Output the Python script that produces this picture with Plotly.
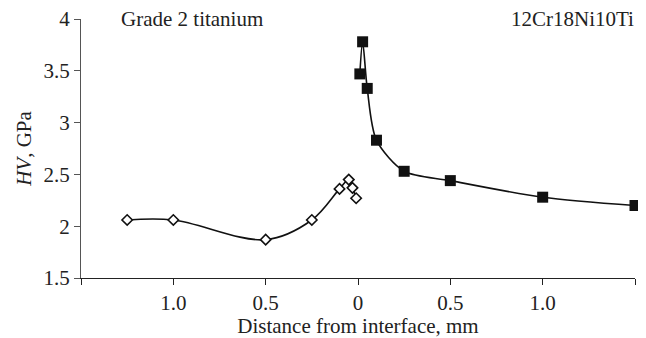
import plotly.graph_objects as go

# Data
ti_x = [-1.25, -1.0, -0.5, -0.25, -0.1, -0.05, -0.03, -0.01]
ti_hv = [2.06, 2.06, 1.87, 2.06, 2.36, 2.45, 2.37, 2.27]

st_x = [0.01, 0.025, 0.05, 0.1, 0.25, 0.5, 1.0, 1.5]
st_hv = [3.47, 3.78, 3.33, 2.83, 2.53, 2.44, 2.28, 2.20]

x_tickvals = [-1.5, -1.0, -0.5, 0, 0.5, 1.0, 1.5]
x_ticktext = ["", "1.0", "0.5", "0", "0.5", "1.0", "1.5"]
y_tickvals = [1.5, 2, 2.5, 3, 3.5, 4]
y_ticktext = ["1.5", "2", "2.5", "3", "3.5", "4"]

FONT = "Liberation Serif, Times New Roman, serif"

fig = go.Figure()
fig.add_trace(go.Scatter(
    x=ti_x, y=ti_hv, mode="lines+markers",
    line=dict(color="#111111", width=1.6, shape="spline", smoothing=1.0),
    marker=dict(symbol="diamond", size=8, color="white",
                line=dict(color="#111111", width=1.6)),
    showlegend=False, cliponaxis=False,
))
fig.add_trace(go.Scatter(
    x=st_x, y=st_hv, mode="lines+markers",
    line=dict(color="#111111", width=1.6, shape="spline", smoothing=0.8),
    marker=dict(symbol="square", size=11, color="#111111",
                line=dict(width=0)),
    showlegend=False, cliponaxis=False,
))

# page body has an 8px default margin; figure is sized to fit the window
fig.update_layout(
    width=638, height=330,
    margin=dict(l=73, r=11, t=11, b=60),
    plot_bgcolor="white", paper_bgcolor="white",
    font=dict(family=FONT, size=21, color="#222222"),
    xaxis=dict(
        range=[-1.5, 1.5], tickvals=x_tickvals, ticktext=x_ticktext,
        showgrid=False, zeroline=False, showline=True, automargin=False,
        linecolor="#222222", linewidth=1.2,
        ticks="outside", ticklen=6, tickcolor="#222222", tickwidth=1.2,
        title=dict(text="Distance from interface, mm", standoff=2,
                   font=dict(family=FONT, size=21)),
        tickfont=dict(family=FONT, size=21),
    ),
    yaxis=dict(
        range=[1.5, 4], tickvals=y_tickvals, ticktext=y_ticktext,
        showgrid=False, zeroline=False, showline=True, automargin=False,
        linecolor="#555555", linewidth=1.2, ticklabeloverflow="allow",
        ticks="outside", ticklen=6, tickcolor="#555555", tickwidth=1.2,
        title=dict(text="<i>HV</i>, GPa", standoff=6,
                   font=dict(family=FONT, size=21)),
        tickfont=dict(family=FONT, size=21),
    ),
    annotations=[
        dict(text="Grade 2 titanium", xref="paper", yref="paper",
             x=(111 - 73) / 554, y=1.0, xanchor="left", yanchor="middle",
             showarrow=False, font=dict(family=FONT, size=21, color="#222222")),
        dict(text="12Cr18Ni10Ti", xref="paper", yref="paper",
             x=1.0, y=1.0, xanchor="right", yanchor="middle", xshift=1,
             showarrow=False, font=dict(family=FONT, size=21, color="#222222")),
    ],
)

fig.write_html("out.html")
